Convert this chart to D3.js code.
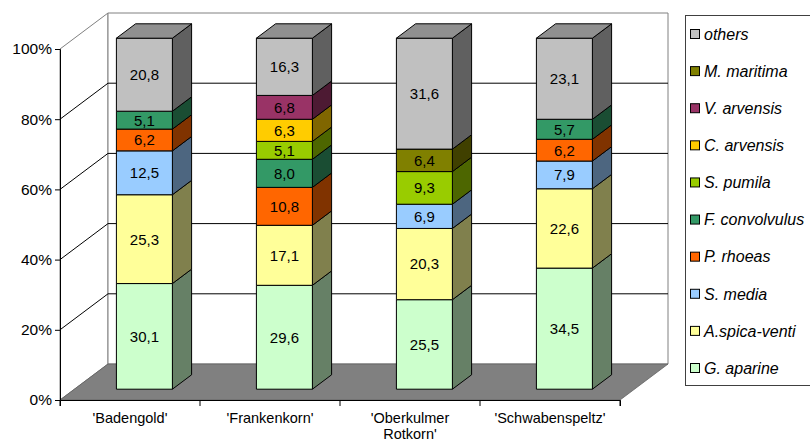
<!DOCTYPE html>
<html>
<head>
<meta charset="utf-8">
<script src="https://cdn.jsdelivr.net/npm/d3@7"></script>
<style>
  html, body { margin: 0; padding: 0; background: #fff; }
  svg { display: block; }
  text { font-family: "Liberation Sans", Arial, sans-serif; }
</style>
</head>
<body>
<svg id="chart" width="810" height="443"></svg>
<script>
// Cultivars on the x axis
const categories = ["'Badengold'", "'Frankenkorn'", "'Oberkulmer Rotkorn'", "'Schwabenspeltz'"];

// Species, stacked bottom to top
const species = ["G. aparine", "A.spica-venti", "S. media", "P. rhoeas", "F. convolvulus",
                 "S. pumila", "C. arvensis", "V. arvensis", "M. maritima", "others"];

// Share (%) of each species per cultivar, in species order
const gAparine      = [30.1, 29.6, 25.5, 34.5];
const aSpicaVenti   = [25.3, 17.1, 20.3, 22.6];
const sMedia        = [12.5, 0,    6.9,  7.9];
const pRhoeas       = [6.2,  10.8, 0,    6.2];
const fConvolvulus  = [5.1,  8.0,  0,    5.7];
const sPumila       = [0,    5.1,  9.3,  0];
const cArvensis     = [0,    6.3,  0,    0];
const vArvensis     = [0,    6.8,  0,    0];
const mMaritima     = [0,    0,    6.4,  0];
const others        = [20.8, 16.3, 31.6, 23.1];

const seriesValues = [gAparine, aSpicaVenti, sMedia, pRhoeas, fConvolvulus,
                      sPumila, cArvensis, vArvensis, mMaritima, others];

const yTicks = [0, 20, 40, 60, 80, 100];

const colors = ["#CCFFCC", "#FFFF99", "#99CCFF", "#FF6600", "#339966",
                "#99CC00", "#FFCC00", "#993366", "#808000", "#C0C0C0"];

const svg = d3.select("#chart");

// Plot geometry (front plane) and depth offset of the 3D box
const x = d3.scaleBand().domain(categories).range([60, 620]).paddingInner(0).paddingOuter(0);
const y = d3.scaleLinear().domain([0, 100]).range([400, 49]);
const DX = 48, DY = -36;
const proj = (px, v, z) => [px + DX * z, y(v) + DY * z];

const shade = (c, k) => { const o = d3.rgb(c); return d3.rgb(o.r * k, o.g * k, o.b * k).formatHex(); };
const poly = pts => "M" + pts.map(p => p.join(",")).join("L") + "Z";

// Walls
const g = svg.append("g");
const x0 = x.range()[0], x1 = x.range()[1];
// left wall
g.append("path")
  .attr("d", poly([proj(x0, 0, 0), proj(x0, 100, 0), proj(x0, 100, 1), proj(x0, 0, 1)]))
  .attr("fill", "#fff").attr("stroke", "#808080").attr("stroke-width", 1);
// back wall
g.append("path")
  .attr("d", poly([proj(x0, 0, 1), proj(x0, 100, 1), proj(x1, 100, 1), proj(x1, 0, 1)]))
  .attr("fill", "#fff").attr("stroke", "#808080").attr("stroke-width", 1);
// floor
g.append("path")
  .attr("d", poly([proj(x0, 0, 0), proj(x0, 0, 1), proj(x1, 0, 1), proj(x1, 0, 0)]))
  .attr("fill", "#808080").attr("stroke", "#606060").attr("stroke-width", 0.8);

// Gridlines on the left and back walls
yTicks.filter(t => t > 0 && t < 100).forEach(t => {
  const a = proj(x0, t, 0), b = proj(x0, t, 1), c = proj(x1, t, 1);
  g.append("path").attr("d", `M${a}L${b}L${c}`)
    .attr("fill", "none").attr("stroke", "#000").attr("stroke-width", 1);
});

// Axes
const yAxis = d3.axisLeft(y).tickValues(yTicks).tickFormat(d => d + "%").tickSize(5).tickPadding(3);
const ya = svg.append("g").attr("transform", `translate(${x0},0)`).call(yAxis);
ya.selectAll("text").attr("font-size", 15.5).attr("fill", "#000");
ya.selectAll("line, path").attr("stroke", "#000");

const xAxis = d3.axisBottom(x).tickSize(6).tickFormat("");
const xa = svg.append("g").attr("transform", `translate(0,${y(0)})`).call(xAxis);
xa.selectAll(".tick line").remove();
xa.select(".domain").attr("stroke", "#000");
// category separators
[...categories.map(c => x(c)), x1].forEach(px => {
  xa.append("line").attr("x1", px).attr("x2", px).attr("y1", 0).attr("y2", 6).attr("stroke", "#000");
});
categories.forEach(c => {
  const lines = c === "'Oberkulmer Rotkorn'" ? ["'Oberkulmer", "Rotkorn'"] : [c];
  const cx = x(c) + x.bandwidth() / 2;
  const t = xa.append("text").attr("x", cx).attr("y", 23)
    .attr("text-anchor", "middle").attr("font-size", 14.5).attr("fill", "#000");
  lines.forEach((l, i) => t.append("tspan").attr("x", cx).attr("dy", i ? 16 : 0).text(l));
});

// Stacked 3D bars
const rows = categories.map((c, i) => {
  const r = { cat: c };
  species.forEach((s, k) => r[s] = seriesValues[k][i]);
  return r;
});
const stack = d3.stack().keys(species)(rows);

const barW = x.bandwidth() * 0.4;
const z0 = 0.3, z1 = 0.7;
const bars = svg.append("g");
categories.forEach((c, i) => {
  const left = x(c) + (x.bandwidth() - barW) / 2, right = left + barW;
  const segs = stack.map((s, k) => ({ k, lo: s[i][0], hi: s[i][1] })).filter(d => d.hi - d.lo > 0);
  segs.forEach((d, j) => {
    const col = colors[d.k];
    // side face
    bars.append("path")
      .attr("d", poly([proj(right, d.lo, z0), proj(right, d.hi, z0), proj(right, d.hi, z1), proj(right, d.lo, z1)]))
      .attr("fill", shade(col, 0.5)).attr("stroke", "#000").attr("stroke-width", 1).attr("stroke-linejoin", "round");
    // front face
    bars.append("path")
      .attr("d", poly([proj(left, d.lo, z0), proj(left, d.hi, z0), proj(right, d.hi, z0), proj(right, d.lo, z0)]))
      .attr("fill", col).attr("stroke", "#000").attr("stroke-width", 1).attr("stroke-linejoin", "round");
    if (j === segs.length - 1) {
      bars.append("path")
        .attr("d", poly([proj(left, d.hi, z0), proj(left, d.hi, z1), proj(right, d.hi, z1), proj(right, d.hi, z0)]))
        .attr("fill", shade(col, 0.75)).attr("stroke", "#000").attr("stroke-width", 1).attr("stroke-linejoin", "round");
    }
    const v = d.hi - d.lo;
    const [cx] = proj((left + right) / 2, 0, z0);
    const cy = (proj(left, d.lo, z0)[1] + proj(left, d.hi, z0)[1]) / 2;
    bars.append("text").attr("x", cx).attr("y", cy).attr("dy", "0.36em")
      .attr("text-anchor", "middle").attr("font-size", 15).attr("fill", "#000")
      .text(d3.format(".1f")(v).replace(".", ","));
  });
});

// Legend (top entry is the top of the stack)
const legend = svg.append("g");
legend.append("rect").attr("x", 685.5).attr("y", 15.5).attr("width", 140).attr("height", 370)
  .attr("fill", "#fff").attr("stroke", "#404040").attr("stroke-width", 1);
const legendOrder = species.slice().reverse();
const ly = d3.scalePoint().domain(legendOrder).range([34, 368]);
legendOrder.forEach(s => {
  const k = species.indexOf(s);
  legend.append("rect").attr("x", 690.5).attr("y", ly(s) - 4.5).attr("width", 9).attr("height", 9)
    .attr("fill", colors[k]).attr("stroke", "#000").attr("stroke-width", 1);
  legend.append("text").attr("x", 704).attr("y", ly(s)).attr("dy", "0.36em")
    .attr("font-size", 16).attr("font-style", "italic").attr("fill", "#000").text(s);
});
</script>
</body>
</html>
